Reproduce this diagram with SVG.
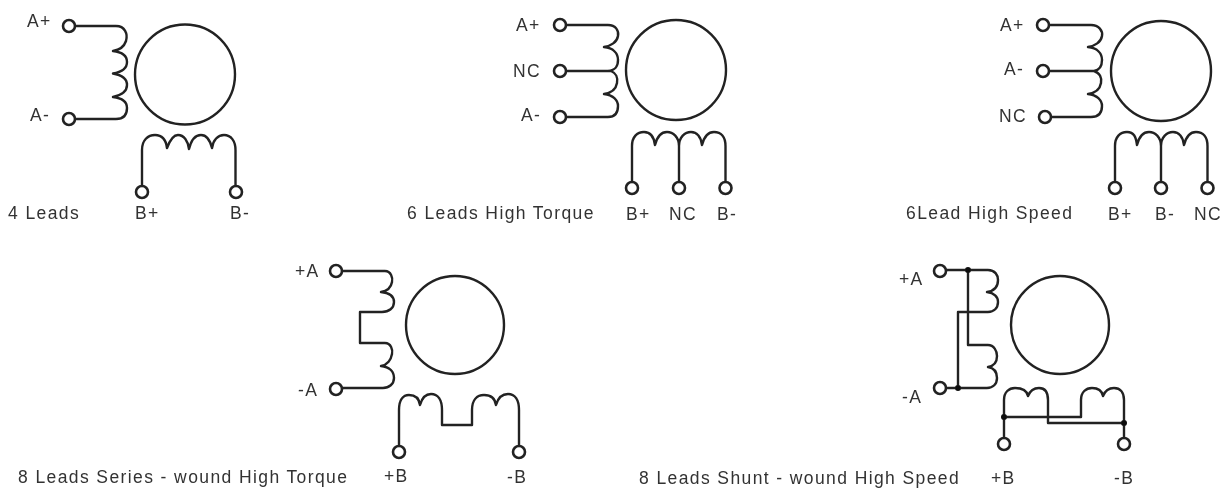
<svg xmlns="http://www.w3.org/2000/svg" width="1228" height="490" viewBox="0 0 1228 490">
<defs><filter id="soft" x="0" y="0" width="100%" height="100%"><feGaussianBlur stdDeviation="0.45"/></filter></defs>
<style>
text{font-family:"Liberation Sans",Arial,sans-serif;font-size:17.5px;letter-spacing:1.4px;fill:#333}
.w{fill:none;stroke:#222;stroke-width:2.4;stroke-linejoin:round}
.t{fill:#fff;stroke:#222;stroke-width:2.6}
.r{fill:#fff;stroke:#222;stroke-width:2.4}
.d{fill:#111}
</style>
<rect width="1228" height="490" fill="#fff"/>
<g filter="url(#soft)">
<g id="connectors">
<path class="w" d="M75 26H116C125 26 128 34 126 41C124 47 119 50 113 51C122 52 127 56 127 62C127 68 122 72 113 73.500C122 75 127 79 127 85C127 91 122 95 113 97C122 98 127 102 127 108C127 115 123 119 116 119H75"/>
<path class="w" d="M142 186V150C142 140 148 135 155 135C162 135 166 140 167 148C170 140 173 135 178 135C184 135 188 141 189 149C191 141 195 135 201 135C206 135 210 140 212 148C213 140 218 135 224 135C231 135 235.500 141 235.500 150V186"/>
<path class="w" d="M566 25H608C616 25 619 31 618 36C617 42 611 46 604 47C613 48 618 53 618 60C618 66 616 70 608 71M566 71H611C616 73 618 78 617 83C616 89 611 93 604 94C613 95 618 100 618 106C618 113 615 117 608 117H566"/>
<path class="w" d="M632 182V146C632 137 637 132 644 132C651 132 654 137 655 145C657 137 661 132 667 132C673 132 679 137 679 146M679 182V146C679 137 685 132 691 132C697 132 701 137 702 145C704 137 708 132 714 132C721 132 725.500 137 725.500 146V182"/>
<path class="w" d="M1049 25H1091C1099 25 1103 31 1102 36C1101 42 1095 46 1088 47C1097 48 1102 53 1102 60C1102 66 1100 70 1094 71M1049 71H1094C1100 73 1102 78 1101 83C1100 89 1095 93 1088 94C1097 95 1102 100 1102 106C1102 113 1098 117 1091 117H1051"/>
<path class="w" d="M1115 182V146C1115 137 1120 132 1127 132C1134 132 1136 137 1137 145C1139 137 1143 132 1149 132C1155 132 1161 137 1161 146M1161 182V146C1161 137 1167 132 1173 132C1179 132 1183 137 1184 145C1186 137 1190 132 1196 132C1203 132 1207.500 137 1207.500 146V182"/>
<path class="w" d="M342 271H385C391 271 393 278 392 282C391 288 387 291 381 292C390 293 394 297 394 302C394 308 389 312 382 312H360V343H385C391 343 393 350 392 354C391 360 387 365 381 366C390 367 394 372 394 378C394 384 389 388 383 388H342"/>
<path class="w" d="M399 446V410C399 400 403 395 409 395C415 395 419 398 420 405C422 398 426 394 431 394C438 394 442 400 442 410V425H472V410C472 400 477 395 484 395C490 395 495 398 496 405C498 398 502 394 508 394C515 394 519 400 519 410V446"/>
<path class="w" d="M946 270H988C995 270 998 275 998 280C998 287 994 291 987 292C994 293 998 297 998 302C998 308 994 312 988 312H958V388M968 270V345H988C994 345 997 351 997 356C997 362 994 366 988 367C994 368 997 372 997 378C997 384 993 388 987 388H946"/>
<path class="w" d="M1004 438V400C1004 392 1009 388 1015 388C1022 388 1027 391 1028 396C1030 391 1034 388 1039 388C1045 388 1048 392 1048 400V423H1124M1004 417H1081V400C1081 392 1086 388 1092 388C1098 388 1102 391 1103 396C1105 391 1109 388 1114 388C1120 388 1124 392 1124 400V438"/>
</g>
<g id="diagram-4-leads">
<circle class="r" cx="185" cy="74.500" r="50"/>
<circle class="t" cx="69" cy="26" r="6"/><circle class="t" cx="69" cy="119" r="6"/><circle class="t" cx="142" cy="192" r="6"/><circle class="t" cx="236" cy="192" r="6"/>
<text x="27" y="27">A+</text><text x="30" y="121">A-</text><text x="8" y="219">4 Leads</text><text x="135" y="219">B+</text><text x="230" y="219">B-</text>
</g>
<g id="diagram-6-leads-high-torque">
<circle class="r" cx="676" cy="70" r="50"/>
<circle class="t" cx="560" cy="25" r="6"/><circle class="t" cx="560" cy="71" r="6"/><circle class="t" cx="560" cy="117" r="6"/><circle class="t" cx="632" cy="188" r="6"/><circle class="t" cx="679" cy="188" r="6"/><circle class="t" cx="725.500" cy="188" r="6"/>
<text x="516" y="31">A+</text><text x="513" y="77">NC</text><text x="521" y="121">A-</text><text x="407" y="219">6 Leads High Torque</text><text x="626" y="220">B+</text><text x="669" y="220">NC</text><text x="717" y="220">B-</text>
</g>
<g id="diagram-6-lead-high-speed">
<circle class="r" cx="1161" cy="71" r="50"/>
<circle class="t" cx="1043" cy="25" r="6"/><circle class="t" cx="1043" cy="71" r="6"/><circle class="t" cx="1045" cy="117" r="6"/><circle class="t" cx="1115" cy="188" r="6"/><circle class="t" cx="1161" cy="188" r="6"/><circle class="t" cx="1207.500" cy="188" r="6"/>
<text x="1000" y="31">A+</text><text x="1004" y="75">A-</text><text x="999" y="122">NC</text><text x="906" y="219">6Lead High Speed</text><text x="1108" y="220">B+</text><text x="1155" y="220">B-</text><text x="1194" y="220">NC</text>
</g>
<g id="diagram-8-leads-series">
<circle class="r" cx="455" cy="325" r="49"/>
<circle class="t" cx="336" cy="271" r="6"/><circle class="t" cx="336" cy="389" r="6"/><circle class="t" cx="399" cy="452" r="6"/><circle class="t" cx="519" cy="452" r="6"/>
<text x="295" y="277">+A</text><text x="298" y="396">-A</text><text x="18" y="483">8 Leads Series - wound High Torque</text><text x="384" y="482">+B</text><text x="507" y="483">-B</text>
</g>
<g id="diagram-8-leads-shunt">
<circle class="r" cx="1060" cy="325" r="49"/>
<circle class="t" cx="940" cy="271" r="6"/><circle class="t" cx="940" cy="388" r="6"/><circle class="t" cx="1004" cy="444" r="6"/><circle class="t" cx="1124" cy="444" r="6"/>
<circle class="d" cx="968" cy="270" r="3"/><circle class="d" cx="958" cy="388" r="3"/><circle class="d" cx="1004" cy="417" r="3"/><circle class="d" cx="1124" cy="423" r="3"/>
<text x="899" y="285">+A</text><text x="902" y="403">-A</text><text x="639" y="484">8 Leads Shunt - wound High Speed</text><text x="991" y="484">+B</text><text x="1114" y="484">-B</text>
</g>
</g>
</svg>
